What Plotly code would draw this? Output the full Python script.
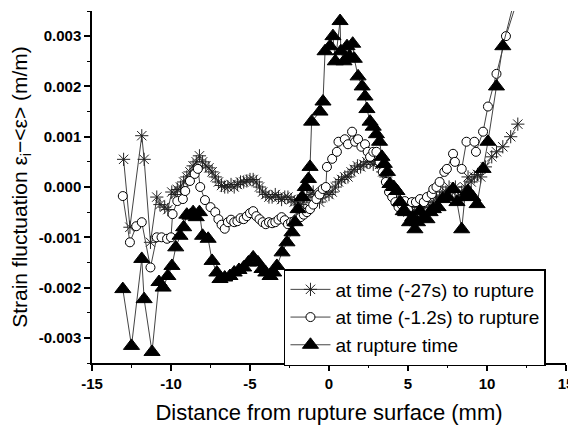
import plotly.graph_objects as go

# at time (-27s) to rupture
x_27s = [-13.0, -12.6, -11.85, -11.7, -11.3, -10.9, -10.7, -10.4, -10.2, -9.95, -9.75, -9.6, -9.4, -9.2,
         -9.0, -8.8, -8.6, -8.4, -8.2, -8.0, -7.8, -7.6, -7.4, -7.2, -7.0, -6.8, -6.6, -6.4, -6.2, -6.0,
         -5.8, -5.6, -5.4, -5.2, -5.0, -4.8, -4.6, -4.4, -4.2, -4.0, -3.8, -3.6, -3.4, -3.2, -3.0, -2.8,
         -2.6, -2.4, -2.2, -2.0, -1.8, -1.6, -1.4, -1.2, -1.0, -0.8, -0.6, -0.4, -0.2, 0.0, 0.2, 0.4,
         0.6, 0.8, 1.0, 1.2, 1.4, 1.6, 1.8, 2.0, 2.2, 2.4, 2.6, 2.8, 3.0, 3.2, 3.4, 3.6, 3.8, 4.0, 4.2,
         4.4, 4.6, 4.8, 5.0, 5.2, 5.4, 5.6, 5.8, 6.0, 6.2, 6.4, 6.6, 6.8, 7.0, 7.2, 7.4, 7.6, 7.8, 8.0,
         8.2, 8.4, 8.6, 8.8, 9.0, 9.2, 9.4, 9.6, 9.9, 10.3, 10.6, 11.0, 11.5, 11.95]
y_27s = [0.00055, -0.0008, 0.00102, 0.00055, -0.0011, -0.0002, -0.00035, -0.0004, -0.00045, -0.0001,
         -0.00015, -0.00005, 0.0, 0.0001, 0.0002, 0.0003, 0.00042, 0.0005, 0.00062, 0.0005, 0.00042,
         0.00038, 0.0003, 0.0002, 0.0001, 0.00003, 0.0, 0.0, 0.00005, 0.0, 0.00005, 0.0001, 0.0001,
         0.00012, 0.00015, 0.00015, 0.0001, 0.0, -0.0001, -0.00015, -0.0002, -0.0002, -0.00015, -0.0002,
         -0.00025, -0.0002, -0.0002, -0.00025, -0.0003, -0.00028, -0.00035, -0.0003, -0.0002, -0.00015,
         -0.0001, -0.0002, -0.0003, -0.0002, -0.0001, -0.00015, -0.0001, 0.0, 0.0001, 0.00015, 0.0002,
         0.0002, 0.0003, 0.00035, 0.00042, 0.0004, 0.00045, 0.0005, 0.0005, 0.00045, 0.0005, 0.00045,
         0.0003, 0.0002, 0.0, -0.0001, -0.0002, -0.0003, -0.0004, -0.0004, -0.0005, -0.0004, -0.0005,
         -0.0004, -0.0005, -0.0004, -0.0003, -0.0004, -0.0003, -0.0002, -0.0002, -0.0001, -0.0001, 0.0,
         -0.0001, 0.0, -0.0002, -0.0001, 0.0, 0.0002, 0.0001, 0.0002, 0.00025, 0.0002, 0.0004, 0.0006,
         0.0007, 0.0008, 0.001, 0.00125]

# at time (-1.2s) to rupture
x_12s = [-13.05, -12.6, -12.2, -11.85, -11.3, -10.9, -10.6, -10.25, -10.0, -9.9, -9.6, -9.25, -9.1, -8.8,
         -8.5, -8.3, -8.15, -7.85, -7.5, -7.2, -7.0, -6.8, -6.6, -6.4, -6.2, -6.0, -5.8, -5.6, -5.4, -5.2,
         -5.0, -4.8, -4.6, -4.4, -4.2, -4.0, -3.8, -3.6, -3.4, -3.2, -3.0, -2.8, -2.6, -2.4, -2.2, -2.0,
         -1.8, -1.6, -1.4, -1.2, -1.0, -0.8, -0.6, -0.4, -0.2, -0.13, 0.2, 0.5, 0.6, 1.0, 1.2, 1.46, 1.65,
         1.84, 2.05, 2.28, 2.45, 2.6, 2.8, 3.0, 3.2, 3.4, 3.6, 3.8, 4.0, 4.2, 4.4, 4.6, 4.8, 5.0, 5.25,
         5.5, 5.76, 6.0, 6.2, 6.5, 6.6, 6.8, 7.0, 7.3, 7.46, 7.85, 7.97, 8.4, 8.7, 9.2, 9.3, 9.75, 10.06,
         10.6, 11.2, 11.9]
y_12s = [-0.00018, -0.0011, -0.00078, -0.0007, -0.0016, -0.001, -0.001, -0.00103, -0.001, -0.00054,
         -0.00028, -0.00024, -0.00008, 0.00012, 0.00026, 0.00036, 0.0, -0.00026, -0.0004, -0.0005,
         -0.00064, -0.00075, -0.00083, -0.0007, -0.00065, -0.0007, -0.00068, -0.00062, -0.00064,
         -0.00058, -0.00052, -0.00048, -0.00058, -0.00064, -0.0007, -0.00074, -0.0007, -0.00072, -0.0007,
         -0.00065, -0.0006, -0.00066, -0.00074, -0.0007, -0.00068, -0.00062, -0.0006, -0.00055, -0.0005,
         -0.00044, -0.00035, -0.00024, -0.00015, -0.00004, 0.0, 0.0004, 0.00056, 0.0007, 0.0009, 0.00095,
         0.00085, 0.0011, 0.0009, 0.00095, 0.0008, 0.00085, 0.0007, 0.0006, 0.0007, 0.0007, 0.0005,
         0.0003, 0.0001, -0.0001, -0.0002, -0.0003, -0.0004, -0.00035, -0.00028, -0.00045, -0.0003,
         -0.0003, -0.00024, -0.0003, -0.0002, -0.00014, -0.00004, 0.0, 0.0001, 0.0003, 0.00036, 0.00066,
         0.0005, 0.00036, 0.0009, 0.0009, 0.0007, 0.0011, 0.0016, 0.00225, 0.003, 0.0037]

# at rupture time
x_rup = [-13.05, -12.5, -11.85, -11.7, -11.2, -10.76, -10.5, -10.2, -9.94, -9.7, -9.43, -9.2, -9.0, -8.8,
         -8.6, -8.4, -8.2, -8.0, -7.65, -7.4, -7.1, -6.9, -6.6, -6.27, -6.0, -5.7, -5.4, -5.1, -4.8, -4.5,
         -4.24, -4.0, -3.73, -3.5, -3.3, -2.97, -2.66, -2.34, -2.15, -1.96, -1.7, -1.5, -1.3, -1.2, -1.1,
         -0.57, -0.38, -0.25, 0.06, 0.25, 0.4, 0.7, 0.75, 0.95, 1.14, 1.3, 1.5, 1.6, 1.84, 2.1, 2.28, 2.4,
         2.6, 2.8, 3.0, 3.2, 3.35, 3.5, 3.7, 3.86, 4.1, 4.3, 4.5, 4.7, 4.85, 5.1, 5.3, 5.44, 5.6, 5.76,
         6.0, 6.2, 6.4, 6.6, 6.9, 7.2, 7.5, 7.85, 8.1, 8.4, 8.6, 8.8, 9.1, 9.37, 9.75, 10.06, 10.6, 11.0,
         11.8]
y_rup = [-0.00203, -0.00316, -0.00143, -0.00223, -0.00328, -0.00189, -0.002, -0.00177, -0.00157, -0.0012,
         -0.00097, -0.0008, -0.00055, -0.00057, -0.0005, -0.0006, -0.0005, -0.00097, -0.00103, -0.00147,
         -0.0017, -0.00183, -0.0018, -0.00177, -0.0017, -0.00165, -0.0016, -0.0015, -0.0014, -0.0015,
         -0.00163, -0.0017, -0.00177, -0.0017, -0.00157, -0.0013, -0.0011, -0.0009, -0.0007, -0.00044,
         -0.0002, 0.0, 0.00016, 0.0004, 0.0013, 0.0015, 0.0017, 0.0027, 0.0028, 0.003, 0.0025, 0.0033,
         0.0027, 0.0025, 0.0028, 0.0026, 0.00285, 0.00255, 0.0022, 0.002, 0.0018, 0.00155, 0.0013, 0.0012,
         0.00105, 0.0009, 0.0006, 0.00046, 0.0003, 0.00006, 0.0, -0.00008, -0.0003, -0.00048, -0.0005,
         -0.0007, -0.0006, -0.00084, -0.0007, -0.00048, -0.0006, -0.00064, -0.0005, -0.00044, -0.0004,
         -0.00024, -0.0002, -0.00004, -0.0003, -0.00084, -0.0002, -0.00008, -0.0002, -0.00034, 0.00036,
         0.0009, 0.002, 0.0028, 0.0038]

x_ticks = [-15, -10, -5, 0, 5, 10, 15]
x_tick_labels = ['-15', '-10', '-5', '0', '5', '10', '15']
y_ticks = [-0.003, -0.002, -0.001, 0.0, 0.001, 0.002, 0.003]
y_tick_labels = ['-0.003', '-0.002', '-0.001', '0.000', '0.001', '0.002', '0.003']

FONT = 'Arial'
LINE_COLOR = '#444444'


def plot_series(x, y, name, symbol, size, fill):
    return go.Scatter(
        x=x,
        y=y,
        name=name,
        mode='lines+markers',
        line={'color': LINE_COLOR, 'width': 1},
        marker={
            'symbol': symbol,
            'size': size,
            'color': fill,
            'line': {'color': 'black', 'width': 1},
        },
    )


data = [
    plot_series(x_27s, y_27s, 'at time (-27s) to rupture', 'asterisk-open', 11, '#222222'),
    plot_series(x_12s, y_12s, 'at time (-1.2s) to rupture', 'circle', 9, 'white'),
    plot_series(x_rup, y_rup, 'at rupture time', 'triangle-up', 14, 'black'),
]

axis_common = {
    'showline': True,
    'linecolor': 'black',
    'linewidth': 1.5,
    'showgrid': False,
    'zeroline': False,
    'automargin': False,
    'ticks': 'outside',
    'ticklen': 6,
    'tickwidth': 1.5,
    'tickcolor': 'black',
    'tickfont': {'family': FONT, 'size': 15, 'color': 'black', 'weight': 'bold'},
    'minor': {'ticks': 'outside', 'ticklen': 3, 'tickwidth': 1.2, 'tickcolor': 'black', 'showgrid': False},
}

# the page body keeps its 8px margin, so the figure is drawn 8px in from the window corner
fig = go.Figure(data=data)
fig.update_layout(
    width=568,
    height=417,
    margin={'l': 84, 'r': 10, 't': 3, 'b': 62},
    paper_bgcolor='white',
    plot_bgcolor='white',
    font={'family': FONT, 'color': 'black'},
    xaxis={
        **axis_common,
        'range': [-15, 15],
        'tickvals': x_ticks,
        'ticktext': x_tick_labels,
        'minor': {**axis_common['minor'], 'dtick': 2.5},
        'title': {'text': 'Distance from rupture surface (mm)', 'font': {'size': 22}},
    },
    yaxis={
        **axis_common,
        'range': [-0.0035, 0.0035],
        'tickvals': y_ticks,
        'ticktext': y_tick_labels,
        'minor': {**axis_common['minor'], 'dtick': 0.0005, 'tick0': 0},
        'title': {'text': 'Strain fluctuation ε<sub>i</sub>−&lt;ε&gt; (m/m)', 'font': {'size': 21}},
    },
    legend={
        'x': 0.405,
        'y': 0.267,
        'xanchor': 'left',
        'yanchor': 'top',
        'bgcolor': 'white',
        'bordercolor': 'black',
        'borderwidth': 1.5,
        'font': {'family': FONT, 'size': 19, 'color': 'black'},
        'itemwidth': 40,
        'tracegroupgap': 0,
    },
)

fig.write_html("out.html")
